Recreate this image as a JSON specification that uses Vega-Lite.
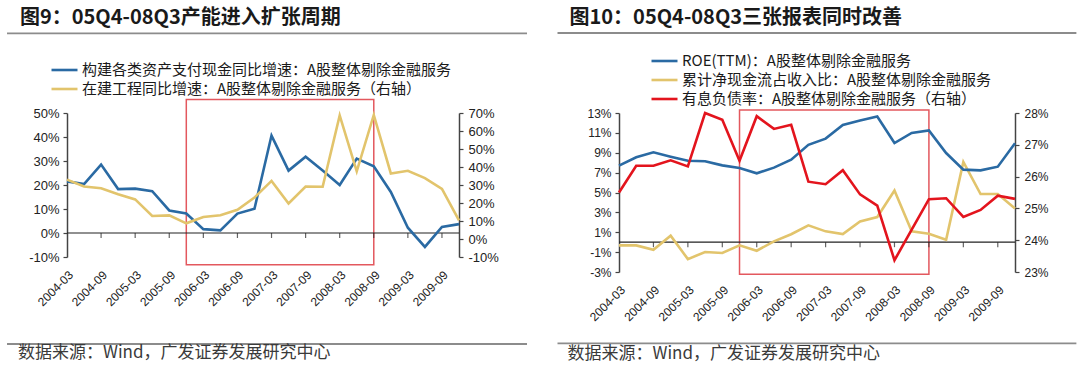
{
  "$schema": "https://vega.github.io/schema/vega-lite/v6.json",
  "padding": {"left": 6, "top": 7, "right": 0, "bottom": 0},
  "background": "white",
  "spacing": 28,
  "config": {
    "view": {"stroke": null},
    "axis": {"grid": false, "labelFont": "Liberation Sans", "labelFontSize": 12, "labelColor": "#222222", "labelOverlap": false},
    "line": {"strokeWidth": 2.6, "strokeJoin": "miter"}
  },
  "resolve": {"scale": {"color": "independent"}, "legend": {"color": "independent"}},
  "datasets": {
    "p1": [
      {"d": "2004-03", "capex": 21.5, "cip": 33.0},
      {"d": "2004-06", "capex": 20.4, "cip": 29.2},
      {"d": "2004-09", "capex": 28.5, "cip": 28.2},
      {"d": "2004-12", "capex": 18.3, "cip": 24.9},
      {"d": "2005-03", "capex": 18.5, "cip": 22.0},
      {"d": "2005-06", "capex": 17.4, "cip": 12.8},
      {"d": "2005-09", "capex": 9.4, "cip": 13.1},
      {"d": "2005-12", "capex": 8.1, "cip": 8.7},
      {"d": "2006-03", "capex": 1.6, "cip": 12.2},
      {"d": "2006-06", "capex": 1.1, "cip": 13.2},
      {"d": "2006-09", "capex": 8.1, "cip": 16.2},
      {"d": "2006-12", "capex": 10.1, "cip": 23.0},
      {"d": "2007-03", "capex": 40.6, "cip": 32.3},
      {"d": "2007-06", "capex": 26.0, "cip": 19.7},
      {"d": "2007-09", "capex": 31.8, "cip": 29.1},
      {"d": "2007-12", "capex": 26.0, "cip": 29.0},
      {"d": "2008-03", "capex": 20.0, "cip": 68.7},
      {"d": "2008-06", "capex": 31.0, "cip": 37.6},
      {"d": "2008-09", "capex": 27.8, "cip": 68.9},
      {"d": "2008-12", "capex": 17.1, "cip": 36.4},
      {"d": "2009-03", "capex": 2.2, "cip": 37.9},
      {"d": "2009-06", "capex": -5.8, "cip": 33.8},
      {"d": "2009-09", "capex": 2.5, "cip": 27.8},
      {"d": "2009-12", "capex": 3.7, "cip": 10.3}
    ],
    "p2": [
      {"d": "2004-03", "roe": 7.7, "cf": -0.32, "debt": 25.5},
      {"d": "2004-06", "roe": 8.54, "cf": -0.32, "debt": 26.34},
      {"d": "2004-09", "roe": 9.04, "cf": -0.76, "debt": 26.34},
      {"d": "2004-12", "roe": 8.6, "cf": 0.65, "debt": 26.51},
      {"d": "2005-03", "roe": 8.2, "cf": -1.7, "debt": 26.32},
      {"d": "2005-06", "roe": 8.15, "cf": -0.99, "debt": 28.0},
      {"d": "2005-09", "roe": 7.73, "cf": -1.09, "debt": 27.79},
      {"d": "2005-12", "roe": 7.46, "cf": -0.32, "debt": 26.5},
      {"d": "2006-03", "roe": 6.93, "cf": -0.86, "debt": 27.9},
      {"d": "2006-06", "roe": 7.5, "cf": 0.08, "debt": 27.5},
      {"d": "2006-09", "roe": 8.3, "cf": 0.8, "debt": 27.63},
      {"d": "2006-12", "roe": 9.8, "cf": 1.69, "debt": 25.84},
      {"d": "2007-03", "roe": 10.42, "cf": 1.09, "debt": 25.76},
      {"d": "2007-06", "roe": 11.8, "cf": 0.82, "debt": 26.2},
      {"d": "2007-09", "roe": 12.25, "cf": 2.09, "debt": 25.44},
      {"d": "2007-12", "roe": 12.65, "cf": 2.53, "debt": 25.09},
      {"d": "2008-03", "roe": 9.98, "cf": 5.2, "debt": 23.37},
      {"d": "2008-06", "roe": 10.99, "cf": 1.09, "debt": 24.33},
      {"d": "2008-09", "roe": 11.25, "cf": 0.85, "debt": 25.29},
      {"d": "2008-12", "roe": 8.97, "cf": 0.25, "debt": 25.32},
      {"d": "2009-03", "roe": 7.3, "cf": 8.07, "debt": 24.73},
      {"d": "2009-06", "roe": 7.23, "cf": 4.85, "debt": 24.95},
      {"d": "2009-09", "roe": 7.6, "cf": 4.85, "debt": 25.4},
      {"d": "2009-12", "roe": 9.95, "cf": 3.4, "debt": 25.3}
    ]
  },
  "hconcat": [
    {
      "width": 392,
      "height": 144,
      "resolve": {"scale": {"x": "independent", "y": "independent"}},
      "layer": [
        {
          "data": {"values": [{}]},
          "layer": [
            {
              "mark": {"type": "rect", "fill": "transparent", "stroke": "#e3585e", "strokeWidth": 1.5},
              "encoding": {
                "x": {"datum": "2005-12", "type": "ordinal", "axis": null,
                  "scale": {"type": "point", "padding": 0, "domain": ["2004-03","2004-06","2004-09","2004-12","2005-03","2005-06","2005-09","2005-12","2006-03","2006-06","2006-09","2006-12","2007-03","2007-06","2007-09","2007-12","2008-03","2008-06","2008-09","2008-12","2009-03","2009-06","2009-09","2009-12"]}},
                "x2": {"datum": "2008-09"},
                "y": {"datum": 55.6, "type": "quantitative", "axis": null, "scale": {"domain": [-10, 50], "nice": false, "zero": false}},
                "y2": {"datum": -13.2}
              }
            },
            {
              "mark": {"type": "rule", "color": "#222222", "strokeWidth": 1.2},
              "encoding": {"y": {"datum": 0, "type": "quantitative"}}
            },
            {
              "data": {"name": "p1"},
              "transform": [{"filter": {"field": "d", "oneOf": ["2004-09","2005-03","2005-09","2006-03","2006-09","2007-03","2007-09","2008-03","2008-09","2009-03","2009-09"]}}],
              "mark": {"type": "tick", "orient": "vertical", "size": 5, "thickness": 1.2, "color": "#222222", "yOffset": 2.5},
              "encoding": {"x": {"field": "d", "type": "ordinal"}, "y": {"datum": 0, "type": "quantitative"}}
            }
          ]
        },
        {
          "data": {"name": "p1"},
          "resolve": {"scale": {"y": "independent"}},
          "layer": [
            {
              "mark": {"type": "line"},
              "encoding": {
                "x": {"field": "d", "type": "ordinal",
                  "scale": {"type": "point", "padding": 0, "domain": ["2004-03","2004-06","2004-09","2004-12","2005-03","2005-06","2005-09","2005-12","2006-03","2006-06","2006-09","2006-12","2007-03","2007-06","2007-09","2007-12","2008-03","2008-06","2008-09","2008-12","2009-03","2009-06","2009-09","2009-12"]},
                  "axis": {"orient": "bottom", "values": ["2004-03","2004-09","2005-03","2005-09","2006-03","2006-09","2007-03","2007-09","2008-03","2008-09","2009-03","2009-09"], "labelAngle": -45, "labelAlign": "right", "labelBaseline": "top", "labelPadding": 12, "labelOverlap": false, "domain": false, "ticks": false, "title": null}},
                "y": {"field": "capex", "type": "quantitative",
                  "scale": {"domain": [-10, 50], "nice": false, "zero": false},
                  "axis": {"orient": "left", "values": [-10, 0, 10, 20, 30, 40, 50], "labelExpr": "datum.value + '%'", "labelFontSize": 13, "labelOverlap": false, "domainColor": "#444444", "domainWidth": 1.5, "tickColor": "#444444", "tickSize": 4, "tickWidth": 1.2, "labelPadding": 4, "title": null}},
                "color": {"datum": "构建各类资产支付现金同比增速：A股整体剔除金融服务", "type": "nominal",
                  "scale": {"domain": ["构建各类资产支付现金同比增速：A股整体剔除金融服务", "在建工程同比增速：A股整体剔除金融服务（右轴）"], "range": ["#2a6aa3", "#e2c46c"]},
                  "legend": {"orient": "none", "legendX": -17, "legendY": -51, "direction": "vertical", "title": null, "symbolType": "stroke", "symbolSize": 676, "symbolStrokeWidth": 2.5, "clipHeight": 16, "labelFont": "Noto Sans CJK SC", "labelFontSize": 15, "labelColor": "#1a1a1a", "labelLimit": 700, "rowPadding": 3, "labelOffset": 3}}
              }
            },
            {
              "mark": {"type": "line"},
              "encoding": {
                "x": {"field": "d", "type": "ordinal"},
                "y": {"field": "cip", "type": "quantitative",
                  "scale": {"domain": [-10, 70], "nice": false, "zero": false},
                  "axis": {"orient": "right", "values": [-10, 0, 10, 20, 30, 40, 50, 60, 70], "labelExpr": "datum.value + '%'", "labelFontSize": 13, "labelOverlap": false, "domainColor": "#444444", "domainWidth": 1.5, "tickColor": "#444444", "tickSize": 4, "tickWidth": 1.2, "labelPadding": 5, "title": null}},
                "color": {"datum": "在建工程同比增速：A股整体剔除金融服务（右轴）", "type": "nominal"}
              }
            }
          ]
        },
        {
          "data": {"values": [{}]},
          "layer": [
            {
              "mark": {"type": "rule", "color": "#8c8c8c", "strokeWidth": 1.8},
              "encoding": {
                "x": {"datum": -0.153, "type": "quantitative", "scale": {"domain": [0, 1], "nice": false, "zero": false}, "axis": null},
                "x2": {"datum": 1.1735},
                "y": {"datum": 1.5535, "type": "quantitative", "scale": {"domain": [0, 1], "nice": false, "zero": false}, "axis": null}
              }
            },
            {
              "mark": {"type": "rule", "color": "#8c8c8c", "strokeWidth": 1.8},
              "encoding": {
                "x": {"datum": -0.153, "type": "quantitative"},
                "x2": {"datum": 1.1735},
                "y": {"datum": -0.604, "type": "quantitative"}
              }
            },
            {
              "mark": {"type": "text", "align": "left", "baseline": "middle", "font": "Noto Sans CJK SC", "fontSize": 20, "fontWeight": "bold", "color": "#1a1a1a"},
              "encoding": {
                "x": {"datum": -0.12, "type": "quantitative"},
                "y": {"datum": 1.658, "type": "quantitative"},
                "text": {"value": "图9：05Q4-08Q3产能进入扩张周期"}
              }
            },
            {
              "mark": {"type": "text", "align": "left", "baseline": "middle", "font": "Noto Sans CJK SC", "fontSize": 17, "color": "#3a3a3a"},
              "encoding": {
                "x": {"datum": -0.125, "type": "quantitative"},
                "y": {"datum": -0.669, "type": "quantitative"},
                "text": {"value": "数据来源：Wind，广发证券发展研究中心"}
              }
            }
          ]
        }
      ]
    },
    {
      "width": 396,
      "height": 159,
      "resolve": {"scale": {"x": "independent", "y": "independent"}},
      "layer": [
        {
          "data": {"values": [{}]},
          "layer": [
            {
              "mark": {"type": "rect", "fill": "transparent", "stroke": "#e3585e", "strokeWidth": 1.5},
              "encoding": {
                "x": {"datum": "2005-12", "type": "ordinal", "axis": null,
                  "scale": {"type": "point", "padding": 0, "domain": ["2004-03","2004-06","2004-09","2004-12","2005-03","2005-06","2005-09","2005-12","2006-03","2006-06","2006-09","2006-12","2007-03","2007-06","2007-09","2007-12","2008-03","2008-06","2008-09","2008-12","2009-03","2009-06","2009-09","2009-12"]}},
                "x2": {"datum": "2008-09"},
                "y": {"datum": 13.3, "type": "quantitative", "axis": null, "scale": {"domain": [-3, 13], "nice": false, "zero": false}},
                "y2": {"datum": -3.23}
              }
            },
            {
              "mark": {"type": "rule", "color": "#222222", "strokeWidth": 1.2},
              "encoding": {"y": {"datum": 0, "type": "quantitative"}}
            },
            {
              "data": {"name": "p2"},
              "transform": [{"filter": {"field": "d", "oneOf": ["2004-09","2005-03","2005-09","2006-03","2006-09","2007-03","2007-09","2008-03","2008-09","2009-03","2009-09"]}}],
              "mark": {"type": "tick", "orient": "vertical", "size": 5, "thickness": 1.2, "color": "#222222", "yOffset": 2.5},
              "encoding": {"x": {"field": "d", "type": "ordinal"}, "y": {"datum": 0, "type": "quantitative"}}
            }
          ]
        },
        {
          "data": {"name": "p2"},
          "resolve": {"scale": {"y": "independent"}},
          "layer": [
            {
              "layer": [
                {
                  "mark": {"type": "line"},
                  "encoding": {
                    "x": {"field": "d", "type": "ordinal",
                      "scale": {"type": "point", "padding": 0, "domain": ["2004-03","2004-06","2004-09","2004-12","2005-03","2005-06","2005-09","2005-12","2006-03","2006-06","2006-09","2006-12","2007-03","2007-06","2007-09","2007-12","2008-03","2008-06","2008-09","2008-12","2009-03","2009-06","2009-09","2009-12"]},
                      "axis": {"orient": "bottom", "values": ["2004-03","2004-09","2005-03","2005-09","2006-03","2006-09","2007-03","2007-09","2008-03","2008-09","2009-03","2009-09"], "labelAngle": -45, "labelAlign": "right", "labelBaseline": "top", "labelPadding": 12, "labelOverlap": false, "domain": false, "ticks": false, "title": null}},
                    "y": {"field": "cf", "type": "quantitative",
                      "scale": {"domain": [-3, 13], "nice": false, "zero": false},
                      "axis": {"orient": "left", "values": [-3, -1, 1, 3, 5, 7, 9, 11, 13], "labelExpr": "datum.value + '%'", "labelOverlap": false, "domainColor": "#444444", "domainWidth": 1.5, "tickColor": "#444444", "tickSize": 4, "tickWidth": 1.2, "labelPadding": 4, "title": null}},
                    "color": {"datum": "累计净现金流占收入比：A股整体剔除金融服务", "type": "nominal",
                      "scale": {"domain": ["ROE(TTM)：A股整体剔除金融服务", "累计净现金流占收入比：A股整体剔除金融服务", "有息负债率：A股整体剔除金融服务（右轴）"], "range": ["#2a6aa3", "#e2c46c", "#e3141d"]},
                      "legend": {"orient": "none", "legendX": 31, "legendY": -60, "direction": "vertical", "title": null, "symbolType": "stroke", "symbolSize": 676, "symbolStrokeWidth": 2.5, "clipHeight": 16, "labelFont": "Noto Sans CJK SC", "labelFontSize": 15, "labelColor": "#1a1a1a", "labelLimit": 700, "rowPadding": 3, "labelOffset": 3}}
                  }
                },
                {
                  "mark": {"type": "line"},
                  "encoding": {
                    "x": {"field": "d", "type": "ordinal"},
                    "y": {"field": "roe", "type": "quantitative",
                      "axis": {"orient": "left", "values": [-3, -1, 1, 3, 5, 7, 9, 11, 13], "labelExpr": "datum.value + '%'", "labelOverlap": false, "domainColor": "#444444", "domainWidth": 1.5, "tickColor": "#444444", "tickSize": 4, "tickWidth": 1.2, "labelPadding": 4, "title": null}},
                    "color": {"datum": "ROE(TTM)：A股整体剔除金融服务", "type": "nominal"}
                  }
                }
              ]
            },
            {
              "mark": {"type": "line"},
              "encoding": {
                "x": {"field": "d", "type": "ordinal"},
                "y": {"field": "debt", "type": "quantitative",
                  "scale": {"domain": [23, 28], "nice": false, "zero": false},
                  "axis": {"orient": "right", "values": [23, 24, 25, 26, 27, 28], "labelExpr": "datum.value + '%'", "labelOverlap": false, "domainColor": "#444444", "domainWidth": 1.5, "tickColor": "#444444", "tickSize": 4, "tickWidth": 1.2, "labelPadding": 5, "title": null}},
                "color": {"datum": "有息负债率：A股整体剔除金融服务（右轴）", "type": "nominal"}
              }
            }
          ]
        },
        {
          "data": {"values": [{}]},
          "layer": [
            {
              "mark": {"type": "rule", "color": "#8c8c8c", "strokeWidth": 1.8},
              "encoding": {
                "x": {"datum": -0.1553, "type": "quantitative", "scale": {"domain": [0, 1], "nice": false, "zero": false}, "axis": null},
                "x2": {"datum": 1.155},
                "y": {"datum": 1.503, "type": "quantitative", "scale": {"domain": [0, 1], "nice": false, "zero": false}, "axis": null}
              }
            },
            {
              "mark": {"type": "rule", "color": "#8c8c8c", "strokeWidth": 1.8},
              "encoding": {
                "x": {"datum": -0.1553, "type": "quantitative"},
                "x2": {"datum": 1.155},
                "y": {"datum": -0.449, "type": "quantitative"}
              }
            },
            {
              "mark": {"type": "text", "align": "left", "baseline": "middle", "font": "Noto Sans CJK SC", "fontSize": 20, "fontWeight": "bold", "color": "#1a1a1a"},
              "encoding": {
                "x": {"datum": -0.125, "type": "quantitative"},
                "y": {"datum": 1.599, "type": "quantitative"},
                "text": {"value": "图10：05Q4-08Q3三张报表同时改善"}
              }
            },
            {
              "mark": {"type": "text", "align": "left", "baseline": "middle", "font": "Noto Sans CJK SC", "fontSize": 17, "color": "#3a3a3a"},
              "encoding": {
                "x": {"datum": -0.130, "type": "quantitative"},
                "y": {"datum": -0.516, "type": "quantitative"},
                "text": {"value": "数据来源：Wind，广发证券发展研究中心"}
              }
            }
          ]
        }
      ]
    }
  ]
}
